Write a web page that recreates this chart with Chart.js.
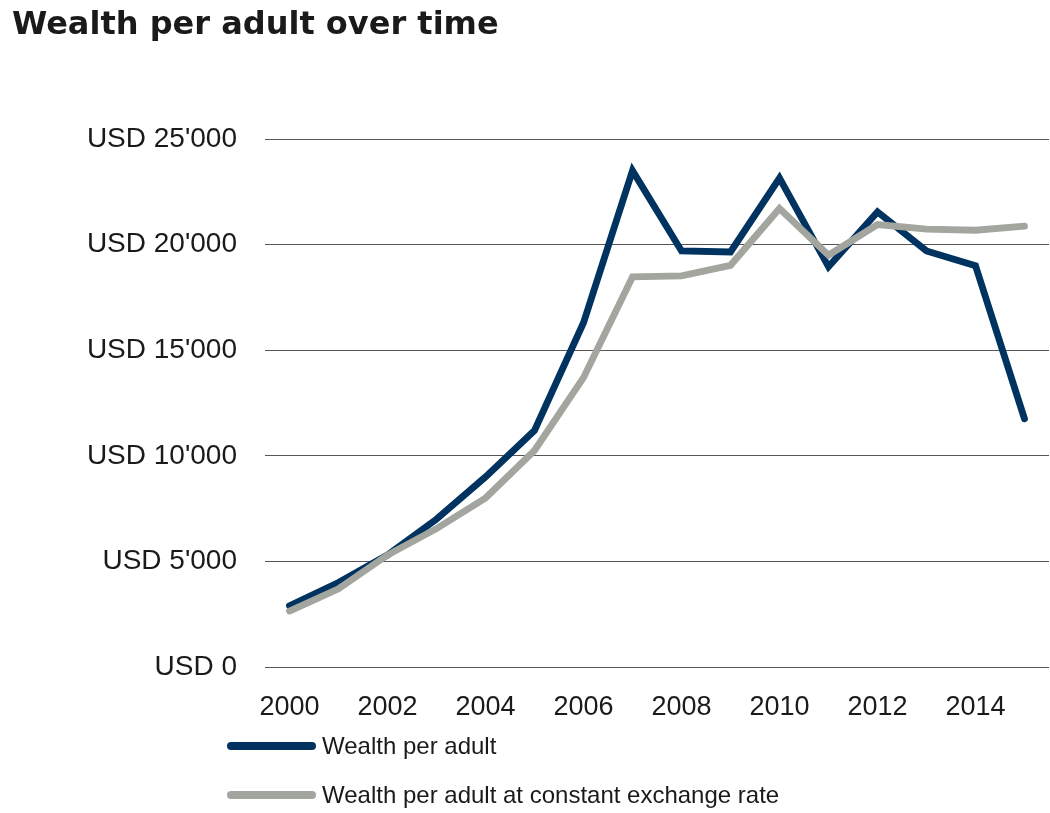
<!DOCTYPE html>
<html>
<head>
<meta charset="utf-8">
<title>Wealth per adult over time</title>
<script src="https://cdn.jsdelivr.net/npm/chart.js@4.4.1/dist/chart.umd.min.js"></script>
<style>
  html, body { margin: 0; padding: 0; background: #fff; }
  #wrap { position: relative; width: 1050px; height: 813px; overflow: hidden; }
  #chart { position: absolute; left: 0; top: 0; }
  #title {
    position: absolute; left: 12px; top: 7px; margin: 0;
    font: bold 32px "DejaVu Sans", "Liberation Sans", sans-serif;
    line-height: 1; color: #1a1a1a; white-space: nowrap;
  }
  .legend-row { position: absolute; left: 227px; height: 30px; white-space: nowrap; }
  .legend-line {
    position: absolute; left: 0; top: 11px; width: 89px; height: 8px; border-radius: 4px;
  }
  .legend-text {
    position: absolute; left: 95px; top: 0;
    font: 24px "Liberation Sans", Arial, sans-serif;
    line-height: 30px; color: #1a1a1a;
  }
</style>
</head>
<body>
<div id="wrap">
  <canvas id="chart" width="1050" height="813"></canvas>
  <h1 id="title">Wealth per adult over time</h1>
  <div id="legend"></div>
</div>
<script>
// Data
const years = ['2000', '2001', '2002', '2003', '2004', '2005', '2006', '2007',
               '2008', '2009', '2010', '2011', '2012', '2013', '2014', '2015'];
const wealthPerAdult = [2900, 4000, 5300, 7000, 9000, 11200, 16300, 23500,
                        19700, 19650, 23150, 18950, 21550, 19700, 19000, 11750];
const wealthConstantRate = [2650, 3700, 5300, 6550, 8000, 10250, 13700, 18470,
                            18520, 19020, 21710, 19500, 20950, 20730, 20680, 20870];
const seriesNames = ['Wealth per adult', 'Wealth per adult at constant exchange rate'];
const seriesColors = ['#00335f', '#a3a69f'];

// y tick label like "USD 25'000"
function formatUsd(value) {
    if (value === 0) return 'USD 0';
    return 'USD ' + (value / 1000) + "'000";
}

// Build the legend as plain HTML rows, one per series
function buildLegend() {
    const legend = document.getElementById('legend');
    const rowTops = [731, 780];
    seriesNames.forEach((name, i) => {
        const row = document.createElement('div');
        row.className = 'legend-row';
        row.style.top = rowTops[i] + 'px';
        row.innerHTML = '<div class="legend-line" style="background:' + seriesColors[i] + '"></div>' +
                        '<span class="legend-text">' + name + '</span>';
        legend.appendChild(row);
    });
}

const ctx = document.getElementById('chart').getContext('2d');
new Chart(ctx, {
    type: 'line',
    data: {
        labels: years,
        datasets: [
            {
                label: seriesNames[0],
                data: wealthPerAdult,
                borderColor: seriesColors[0],
                borderWidth: 6.8,
                order: 1
            },
            {
                label: seriesNames[1],
                data: wealthConstantRate,
                borderColor: seriesColors[1],
                borderWidth: 6.8,
                order: 0
            }
        ]
    },
    options: {
        responsive: false,
        animation: false,
        events: [],
        elements: {
            point: { radius: 0 },
            line: { tension: 0, borderCapStyle: 'round', borderJoinStyle: 'miter', fill: false }
        },
        layout: {
            padding: { top: 139, left: 0, right: 1, bottom: 96 }
        },
        plugins: {
            legend: { display: false },
            title: { display: false },
            tooltip: { enabled: false }
        },
        scales: {
            x: {
                offset: true,
                grid: { display: false, drawTicks: false },
                border: { display: false },
                afterFit: scale => { scale.height = 50; },
                ticks: {
                    autoSkip: false,
                    maxRotation: 0,
                    padding: 24,
                    color: '#1a1a1a',
                    font: { family: '"Liberation Sans", Arial, sans-serif', size: 27 },
                    callback: function (value, index) {
                        return index % 2 === 0 ? this.getLabelForValue(value) : '';
                    }
                }
            },
            y: {
                min: 0,
                max: 25000,
                grid: { color: '#555555', lineWidth: 1, drawTicks: false },
                border: { display: false },
                afterFit: scale => { scale.width = 265; },
                ticks: {
                    stepSize: 5000,
                    padding: 28,
                    color: '#1a1a1a',
                    font: { family: '"Liberation Sans", Arial, sans-serif', size: 28 },
                    callback: value => formatUsd(value)
                }
            }
        }
    }
});

buildLegend();
</script>
</body>
</html>
